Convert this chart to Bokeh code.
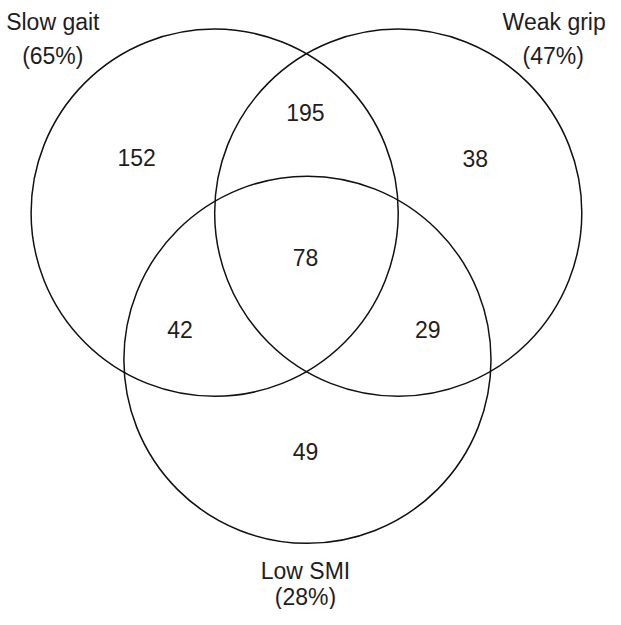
from bokeh.plotting import figure
from bokeh.models import ColumnDataSource, Range1d
from bokeh.embed import file_html
from bokeh.resources import INLINE
from bokeh.core.properties import value

# ---- data ----
set_names = ["Slow gait", "Weak grip", "Low SMI"]
set_percents = ["(65%)", "(47%)", "(28%)"]
region_labels = ["Slow gait only", "Weak grip only", "Low SMI only",
                 "Gait & Grip", "Gait & SMI", "Grip & SMI", "All three"]
region_counts = [152, 38, 49, 195, 42, 29, 78]

# ---- layout (reference-pixel coordinates, y downward) ----
circle_cx = [221, 407, 315]
circle_cy = [219, 219, 368]
circle_r = 186

region_x = [142, 485, 313, 313, 186, 437, 313]
region_y = [163, 164, 461, 117, 337, 337, 264]   # visual centres

name_x = [57, 565, 313]
name_y = [26, 26, 582]
pct_x = [57, 564, 313]
pct_y = [60, 60, 608]

W, H = 605, 609
p = figure(width=W, height=H, output_backend="svg", toolbar_location=None,
           x_range=Range1d(4, 617), y_range=Range1d(621, 4), min_border=0)
p.axis.visible = False
p.grid.visible = False
p.outline_line_color = None
p.background_fill_color = "white"
p.border_fill_color = "white"

circ = ColumnDataSource(dict(x=circle_cx, y=circle_cy,
                             w=[2 * circle_r] * 3, h=[2 * circle_r] * 3))
p.ellipse(x="x", y="y", width="w", height="h", source=circ,
          fill_color=None, line_color="#111111", line_width=1.5)

font = value("Liberation Sans")
fs = value("23px")
col = "#1e1e1e"
reg = ColumnDataSource(dict(x=region_x, y=region_y, t=[str(c) for c in region_counts]))
p.text(x="x", y="y", text="t", source=reg, text_font=font, text_font_size=fs,
       text_align="center", text_baseline="middle", text_color=col)

names = ColumnDataSource(dict(x=name_x, y=name_y, t=set_names))
p.text(x="x", y="y", text="t", source=names, text_font=font, text_font_size=fs,
       text_align="center", text_baseline="middle", text_color=col)
pcts = ColumnDataSource(dict(x=pct_x, y=pct_y, t=set_percents))
p.text(x="x", y="y", text="t", source=pcts, text_font=font, text_font_size=fs,
       text_align="center", text_baseline="middle", text_color=col)

open("out.html", "w").write(file_html(p, INLINE))
